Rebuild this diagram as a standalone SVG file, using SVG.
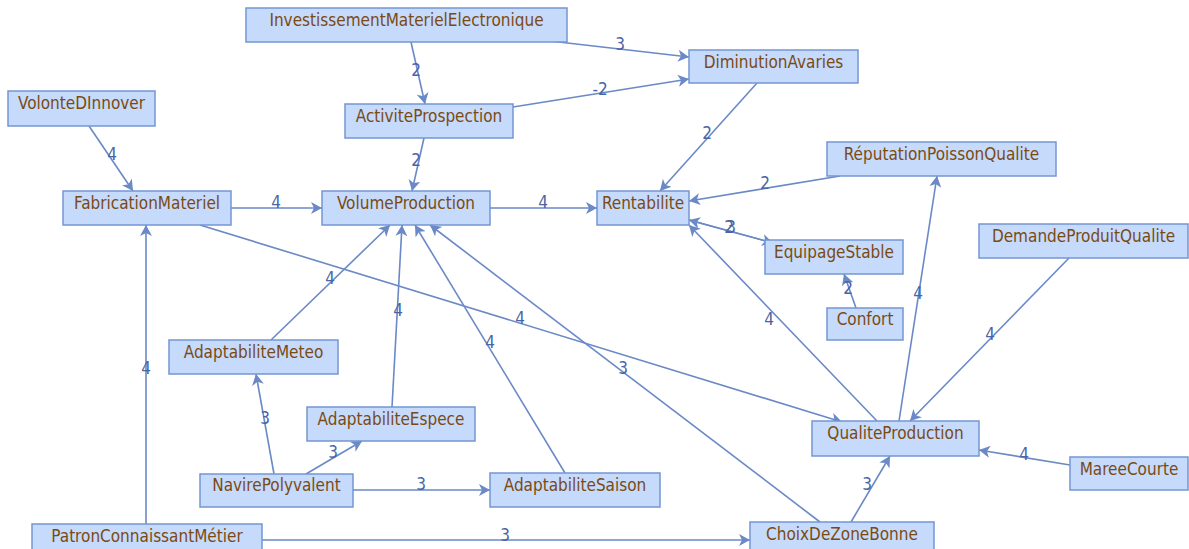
<svg xmlns="http://www.w3.org/2000/svg" width="1189" height="549" viewBox="0 0 1189 549">
<style>
.n rect{fill:#c6dafc;stroke:#7396d2;stroke-width:1.5}
.n text{font-family:"DejaVu Sans Condensed","DejaVu Sans",sans-serif;font-stretch:condensed;font-size:17px;fill:#7a4a12;text-anchor:middle}
.e line{stroke:#6a89c6;stroke-width:1.6;marker-end:url(#ah)}
.l text{font-family:"DejaVu Sans Condensed","DejaVu Sans",sans-serif;font-stretch:condensed;font-size:17px;fill:#4a64a6;text-anchor:middle}
</style>
<defs>
<marker id="ah" viewBox="0 0 11 12" refX="11" refY="6" markerWidth="11" markerHeight="12" markerUnits="userSpaceOnUse" orient="auto">
<path d="M0,0 L11,6 L0,12 L3,6 Z" fill="#6a89c6"/>
</marker>
</defs>
<rect width="1189" height="549" fill="#ffffff"/>
<g id="edges" class="e">
<line x1="550" y1="41" x2="689" y2="57"/>
<line x1="411" y1="42" x2="425" y2="104"/>
<line x1="513" y1="107" x2="689" y2="79"/>
<line x1="89" y1="126" x2="133" y2="191"/>
<line x1="424" y1="138" x2="412" y2="191"/>
<line x1="231" y1="208" x2="322" y2="208"/>
<line x1="490" y1="208" x2="597" y2="208"/>
<line x1="757" y1="83" x2="660" y2="191"/>
<line x1="840" y1="176" x2="689" y2="201"/>
<line x1="689" y1="220" x2="773" y2="243"/>
<line x1="773" y1="243" x2="689" y2="220"/>
<line x1="856" y1="308" x2="844" y2="274"/>
<line x1="877" y1="421" x2="689" y2="225"/>
<line x1="899" y1="421" x2="937" y2="176"/>
<line x1="1069" y1="258" x2="910" y2="421"/>
<line x1="1070" y1="465" x2="979" y2="450"/>
<line x1="851" y1="522" x2="890" y2="456"/>
<line x1="820" y1="522" x2="430" y2="225"/>
<line x1="200" y1="225" x2="842" y2="422"/>
<line x1="271" y1="340" x2="390" y2="225"/>
<line x1="392" y1="407" x2="402" y2="225"/>
<line x1="565" y1="473" x2="415" y2="225"/>
<line x1="274" y1="474" x2="256" y2="374"/>
<line x1="306" y1="474" x2="362" y2="441"/>
<line x1="353" y1="490" x2="490" y2="490"/>
<line x1="146" y1="524" x2="146" y2="225"/>
<line x1="262" y1="540" x2="750" y2="540"/>
</g>
<g id="edge-labels" class="l">
<text x="620" y="50">3</text>
<text x="416" y="76">2</text>
<text x="600" y="95">-2</text>
<text x="112" y="160">4</text>
<text x="416" y="166">2</text>
<text x="276" y="208">4</text>
<text x="543" y="208">4</text>
<text x="707" y="139">2</text>
<text x="765" y="189">2</text>
<text x="729" y="233">2</text>
<text x="731" y="233">3</text>
<text x="848" y="294">2</text>
<text x="769" y="325">4</text>
<text x="918" y="299">4</text>
<text x="990" y="340">4</text>
<text x="1024" y="460">4</text>
<text x="867" y="490">3</text>
<text x="623" y="374">3</text>
<text x="520" y="324">4</text>
<text x="330" y="284">4</text>
<text x="398" y="316">4</text>
<text x="490" y="348">4</text>
<text x="265" y="424">3</text>
<text x="333" y="458">3</text>
<text x="421" y="490">3</text>
<text x="146" y="374">4</text>
<text x="505" y="541">3</text>
</g>
<g id="InvestissementMaterielElectronique" class="n"><rect x="246" y="8" width="321" height="34"/><text x="406.5" y="26">InvestissementMaterielElectronique</text></g>
<g id="DiminutionAvaries" class="n"><rect x="689" y="50" width="169" height="33"/><text x="773.5" y="68">DiminutionAvaries</text></g>
<g id="VolonteDInnover" class="n"><rect x="8" y="91" width="147" height="35"/><text x="81.5" y="109">VolonteDInnover</text></g>
<g id="ActiviteProspection" class="n"><rect x="345" y="104" width="168" height="34"/><text x="429" y="122">ActiviteProspection</text></g>
<g id="FabricationMateriel" class="n"><rect x="63" y="191" width="168" height="34"/><text x="147" y="209">FabricationMateriel</text></g>
<g id="VolumeProduction" class="n"><rect x="322" y="191" width="168" height="34"/><text x="406" y="209">VolumeProduction</text></g>
<g id="Rentabilite" class="n"><rect x="597" y="191" width="92" height="34"/><text x="643" y="209">Rentabilite</text></g>
<g id="ReputationPoissonQualite" class="n"><rect x="827" y="142" width="229" height="34"/><text x="941.5" y="160">RéputationPoissonQualite</text></g>
<g id="EquipageStable" class="n"><rect x="765" y="240" width="138" height="34"/><text x="834" y="258">EquipageStable</text></g>
<g id="Confort" class="n"><rect x="827" y="308" width="76" height="32"/><text x="865" y="325">Confort</text></g>
<g id="DemandeProduitQualite" class="n"><rect x="979" y="224" width="209" height="34"/><text x="1083.5" y="242">DemandeProduitQualite</text></g>
<g id="AdaptabiliteMeteo" class="n"><rect x="169" y="340" width="169" height="34"/><text x="253.5" y="358">AdaptabiliteMeteo</text></g>
<g id="AdaptabiliteEspece" class="n"><rect x="307" y="407" width="168" height="34"/><text x="391" y="425">AdaptabiliteEspece</text></g>
<g id="NavirePolyvalent" class="n"><rect x="200" y="474" width="153" height="33"/><text x="276.5" y="491">NavirePolyvalent</text></g>
<g id="AdaptabiliteSaison" class="n"><rect x="490" y="473" width="170" height="34"/><text x="575" y="491">AdaptabiliteSaison</text></g>
<g id="QualiteProduction" class="n"><rect x="812" y="421" width="167" height="35"/><text x="895.5" y="439">QualiteProduction</text></g>
<g id="MareeCourte" class="n"><rect x="1070" y="457" width="118" height="33"/><text x="1129" y="475">MareeCourte</text></g>
<g id="PatronConnaissantMetier" class="n"><rect x="32" y="524" width="230" height="34"/><text x="147" y="542">PatronConnaissantMétier</text></g>
<g id="ChoixDeZoneBonne" class="n"><rect x="750" y="522" width="184" height="34"/><text x="842" y="540">ChoixDeZoneBonne</text></g>
</svg>
